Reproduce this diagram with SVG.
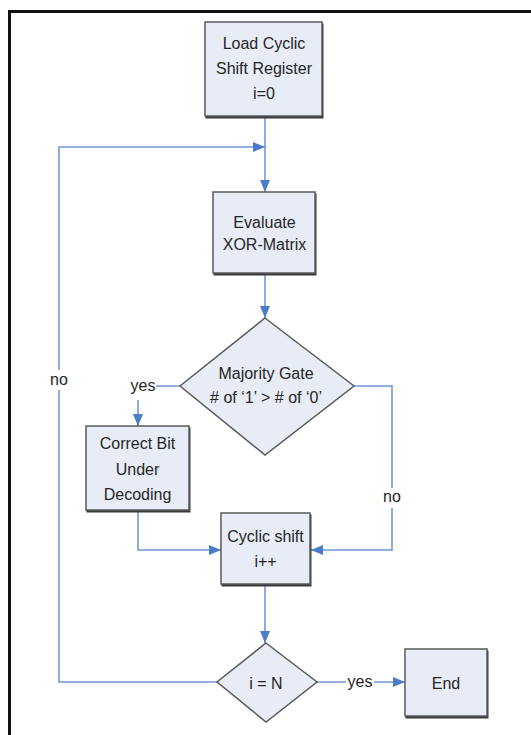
<svg xmlns="http://www.w3.org/2000/svg" width="531" height="735" viewBox="0 0 531 735">
<defs>
<style>
.node{fill:#e7ecf6;stroke:#5a5a5a;stroke-width:1.5}
.shadow{fill:#3a3a3a}
.t{font-family:"Liberation Sans",Arial,sans-serif;font-size:16px;fill:#262626;text-anchor:middle}
.edge{fill:none;stroke:#6f98d6;stroke-width:1.6}
.lblbg{fill:#ffffff}
</style>
<marker id="arr" viewBox="0 0 12 10" refX="12" refY="5" markerWidth="12" markerHeight="10" markerUnits="userSpaceOnUse" orient="auto">
<path d="M0,0 L12,5 L0,10 Z" fill="#4a7cc8"/>
</marker>
</defs>
<rect width="531" height="735" fill="#ffffff"/>
<g id="frame">
<line x1="8" y1="11.5" x2="531" y2="11.5" stroke="#111" stroke-width="3"/>
<line x1="9.5" y1="10" x2="9.5" y2="735" stroke="#111" stroke-width="3"/>
</g>
<g id="connectors">
<path class="edge" d="M265,117 V192" marker-end="url(#arr)"/>
<path class="edge" d="M217,682 H59 V147 H265" marker-end="url(#arr)"/>
<path class="edge" d="M265,274 V318" marker-end="url(#arr)"/>
<path class="edge" d="M180,386 H138 V426" marker-end="url(#arr)"/>
<path class="edge" d="M354,386 H392 V550 H311" marker-end="url(#arr)"/>
<path class="edge" d="M138,512 V550 H221" marker-end="url(#arr)"/>
<path class="edge" d="M265,585 V643" marker-end="url(#arr)"/>
<path class="edge" d="M317,682 H405" marker-end="url(#arr)"/>
</g>
<g id="labels">
<rect class="lblbg" x="48" y="370" width="22" height="20"/>
<text class="t" x="59" y="385">no</text>
<rect class="lblbg" x="128" y="376" width="28" height="24"/>
<text class="t" x="143" y="391">yes</text>
<rect class="lblbg" x="381" y="488" width="22" height="20"/>
<text class="t" x="392" y="502">no</text>
<rect class="lblbg" x="346" y="672" width="28" height="20"/>
<text class="t" x="360" y="687">yes</text>
</g>
<g id="load">
<rect class="shadow" x="205.5" y="23.5" width="118" height="95"/>
<rect class="node" x="205" y="22" width="117" height="94"/>
<text class="t" x="264" y="49">Load Cyclic</text>
<text class="t" x="264" y="74">Shift Register</text>
<text class="t" x="264" y="99">i=0</text>
</g>
<g id="evaluate">
<rect class="shadow" x="213.5" y="193.5" width="103" height="82"/>
<rect class="node" x="213" y="192" width="102" height="81"/>
<text class="t" x="264.5" y="228">Evaluate</text>
<text class="t" x="264.5" y="250">XOR-Matrix</text>
</g>
<g id="majority">
<polygon class="node" points="265,318 354,386 265,455 180,386"/>
<text class="t" x="266" y="379">Majority Gate</text>
<text class="t" x="266" y="403">#  of ‘1’ &gt; # of ‘0’</text>
</g>
<g id="correct">
<rect class="shadow" x="86.5" y="427.5" width="104" height="85"/>
<rect class="node" x="86" y="426" width="103" height="84"/>
<text class="t" x="137.5" y="449">Correct Bit</text>
<text class="t" x="137.5" y="475">Under</text>
<text class="t" x="137.5" y="500">Decoding</text>
</g>
<g id="cyclic">
<rect class="shadow" x="221.5" y="514.5" width="90" height="72"/>
<rect class="node" x="221" y="513" width="89" height="71"/>
<text class="t" x="265.5" y="542">Cyclic shift</text>
<text class="t" x="265.5" y="567">i++</text>
</g>
<g id="check">
<polygon class="node" points="266,643 317,682 266,722 217,682"/>
<text class="t" x="266" y="689">i = N</text>
</g>
<g id="end">
<rect class="shadow" x="405.5" y="650.5" width="83" height="68"/>
<rect class="node" x="405" y="649" width="82" height="67"/>
<text class="t" x="446" y="689">End</text>
</g>
</svg>
